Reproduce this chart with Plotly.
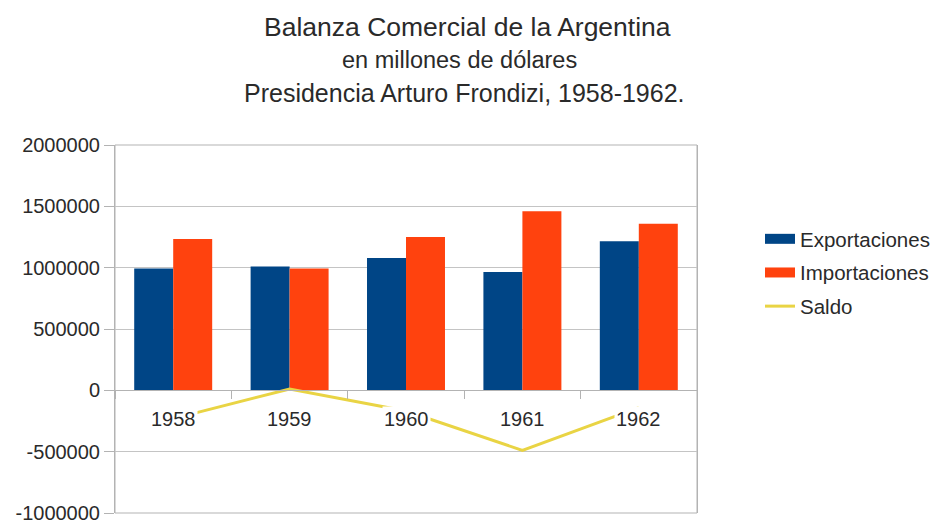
import plotly.graph_objects as go

# ---- data ----
years = ["1958", "1959", "1960", "1961", "1962"]
exportaciones = [993000, 1009000, 1079000, 964000, 1216000]
importaciones = [1233000, 993000, 1249000, 1460000, 1357000]
saldo = [-231000, 11000, -169000, -489000, -141000]
y_tickvals = [-1000000, -500000, 0, 500000, 1000000, 1500000, 2000000]
y_ticktext = ["-1000000", "-500000", "0", "500000", "1000000", "1500000", "2000000"]
series_names = ["Exportaciones", "Importaciones", "Saldo"]
title_lines = ["Balanza Comercial de la Argentina",
               "en millones de dólares",
               "Presidencia Arturo Frondizi, 1958-1962."]

C_EXP = "#004586"
C_IMP = "#ff420e"
C_SAL = "#e9d444"
GRID = "#c4c4c4"
AXIS = "#b3b3b3"
TXT = "#2a2a2a"
FONT = "Liberation Sans, Arial, sans-serif"

W, H = 938, 524
L, R, T, B = 115, 241, 145, 11
PW, PH = W - L - R, H - T - B
def px_x(px):
    return (px - L) / PW
def px_y(py):
    return (H - B - py) / PH

fig = go.Figure()
fig.add_trace(go.Bar(x=years, y=exportaciones, name=series_names[0],
                     marker=dict(color=C_EXP, line=dict(width=0)), showlegend=False))
fig.add_trace(go.Bar(x=years, y=importaciones, name=series_names[1],
                     marker=dict(color=C_IMP, line=dict(width=0)), showlegend=False))
fig.add_trace(go.Scatter(x=years, y=saldo, name=series_names[2], mode="lines",
                         line=dict(color=C_SAL, width=3), showlegend=False))

# legend entries (wide swatches)
fig.add_trace(go.Scatter(x=[years[0]], y=[None], mode="lines", name=series_names[0],
                         line=dict(color=C_EXP, width=13), legendgroup="a"))
fig.add_trace(go.Scatter(x=[years[0]], y=[None], mode="lines", name=series_names[1],
                         line=dict(color=C_IMP, width=13), legendgroup="b"))
fig.add_trace(go.Scatter(x=[years[0]], y=[None], mode="lines", name=series_names[2],
                         line=dict(color=C_SAL, width=3), legendgroup="c"))

annotations = []
title_x_px = [467, 459, 464]
title_y_px = [27, 60, 93.5]
title_sizes = [26.5, 23.5, 25]
for txt, xpx, ypx, sz in zip(title_lines, title_x_px, title_y_px, title_sizes):
    annotations.append(dict(text=txt, xref="paper", yref="paper", x=px_x(xpx), y=px_y(ypx),
                            xanchor="center", yanchor="middle", showarrow=False,
                            font=dict(size=sz, color=TXT, family=FONT)))
for i, yr in enumerate(years):
    annotations.append(dict(text=yr, xref="x", yref="y", x=i, y=0, yshift=-29,
                            xanchor="center", yanchor="middle", showarrow=False,
                            bgcolor="white", borderpad=1,
                            font=dict(size=20, color=TXT, family=FONT)))

fig.update_layout(
    width=W, height=H,
    margin=dict(l=L, r=R, t=T, b=B, autoexpand=False),
    paper_bgcolor="white", plot_bgcolor="white",
    barmode="group", bargap=0.33, bargroupgap=0,
    font=dict(family=FONT, color=TXT),
    annotations=annotations,
    shapes=[dict(type="rect", xref="paper", yref="paper", x0=0, x1=1, y0=0, y1=1,
                 line=dict(color=AXIS, width=1), layer="below")],
    legend=dict(x=px_x(760), y=px_y(219), xanchor="left", yanchor="top",
                font=dict(size=20.5, color=TXT, family=FONT),
                traceorder="grouped", tracegroupgap=4,
                bgcolor="rgba(0,0,0,0)", borderwidth=0),
    xaxis=dict(type="category", range=[-0.5, len(years) - 0.5], autorange=False,
               anchor="free", position=1/3, showline=True, linecolor=AXIS,
               linewidth=1, ticks="outside", tickson="boundaries", ticklen=8, tickcolor=AXIS,
               showticklabels=False, showgrid=False, zeroline=False, fixedrange=True),
    yaxis=dict(range=[-1000000, 2000000], autorange=False, tickmode="array",
               tickvals=y_tickvals, ticktext=y_ticktext, showline=True, mirror=True,
               linecolor=AXIS, linewidth=1, ticklabeloverflow="allow",
               ticks="outside", ticklen=10, tickcolor=AXIS, showgrid=True, gridcolor=GRID,
               gridwidth=1, zeroline=True, zerolinecolor=AXIS, zerolinewidth=1,
               tickfont=dict(size=20, color=TXT, family=FONT), fixedrange=True),
)

fig.write_html("out.html", config={"displayModeBar": False},
               post_script="document.body.style.margin='0';document.body.style.overflow='hidden';")
